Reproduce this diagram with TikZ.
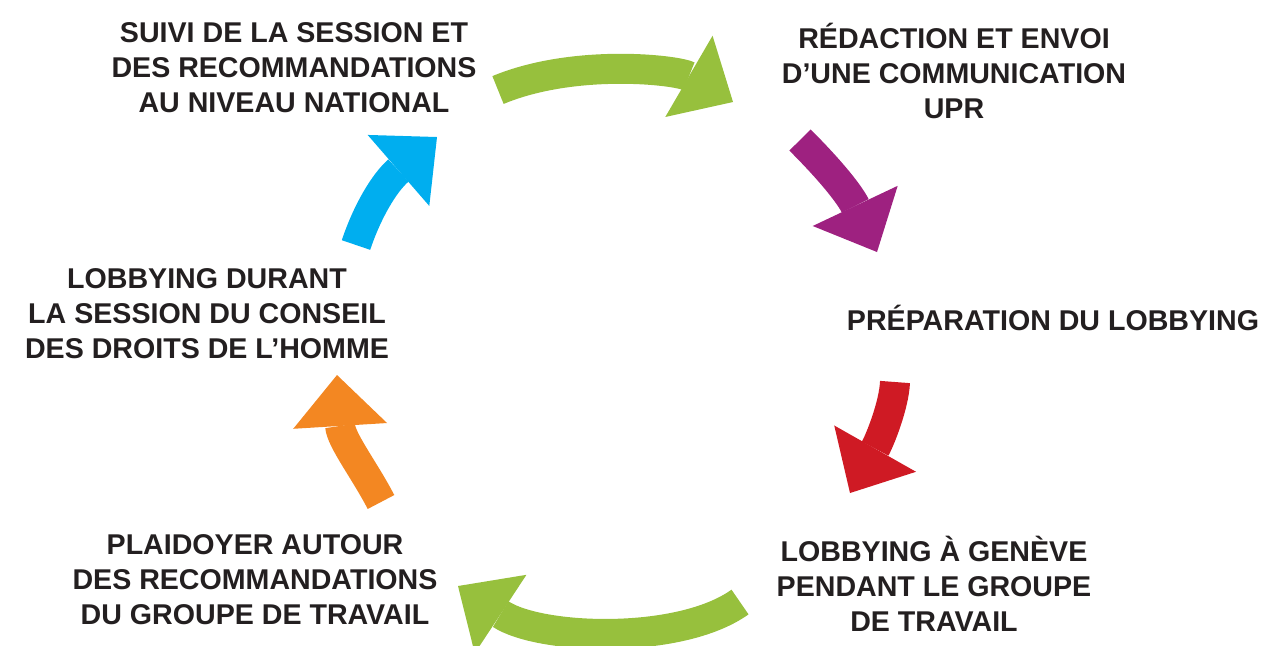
\documentclass[tikz,border=0pt]{standalone}
\usepackage{fontspec}
\setmainfont{Liberation Sans}
\usetikzlibrary{arrows.meta}
\definecolor{vert}{RGB}{151,192,61}
\definecolor{violet}{RGB}{158,33,128}
\definecolor{rouge}{RGB}{207,26,36}
\definecolor{orange}{RGB}{243,135,34}
\definecolor{bleu}{RGB}{0,174,239}
\definecolor{texte}{RGB}{35,31,32}
\begin{document}
\begin{tikzpicture}[x=0.5pt,y=-0.5pt]
 \tikzstyle{etape}=[align=center,font=\fontsize{14.3}{17.5}\selectfont\bfseries,text=texte,inner sep=0pt]
 \tikzstyle{fleche}=[line width=15pt,-{Triangle[length=25.5pt 0,width=47pt 0,line width=0pt]}]
 \useasboundingbox (0,0) rectangle (1262,645);
 \clip (0,0) rectangle (1262,645);
 \node[etape] (suivi) at (294,68) {SUIVI DE LA SESSION ET\\DES RECOMMANDATIONS\\AU NIVEAU NATIONAL};
 \node[etape] (redaction) at (954,71) {RÉDACTION ET ENVOI\\D’UNE COMMUNICATION\\UPR};
 \node[etape] (preparation) at (1053,318) {PRÉPARATION DU LOBBYING};
 \node[etape] (geneve) at (934,584) {LOBBYING À GENÈVE\\PENDANT LE GROUPE\\DE TRAVAIL};
 \node[etape] (plaidoyer) at (255,580) {PLAIDOYER AUTOUR\\DES RECOMMANDATIONS\\DU GROUPE DE TRAVAIL};
 \node[etape] (session) at (207,314) {LOBBYING DURANT\\LA SESSION DU CONSEIL\\DES DROITS DE L’HOMME};
 \coordinate (d1) at (498,90);  \coordinate (f1) at (733,102);
 \coordinate (d2) at (800,140); \coordinate (f2) at (877,252);
 \coordinate (d3) at (895,382); \coordinate (f3) at (850,493);
 \coordinate (d4) at (740,602); \coordinate (f4) at (458,586);
 \coordinate (d5) at (381,502); \coordinate (f5) at (337,375);
 \coordinate (d6) at (356,245); \coordinate (f6) at (437,137);
 \draw[fleche,vert] (d1) .. controls (575,58) and (678,70) .. (f1);
 \draw[fleche,violet] (d2) .. controls (835,175) and (851,197) .. (f2);
 \draw[fleche,rouge] (d3) .. controls (894,405) and (880,440) .. (f3);
 \draw[fleche,vert] (d4) .. controls (680,645) and (540,640) .. (f4);
 \draw[fleche,orange] (d5) .. controls (365,471) and (341,440) .. (f5);
 \draw[fleche,bleu] (d6) .. controls (367,212) and (384,183) .. (f6);
\end{tikzpicture}
\end{document}
